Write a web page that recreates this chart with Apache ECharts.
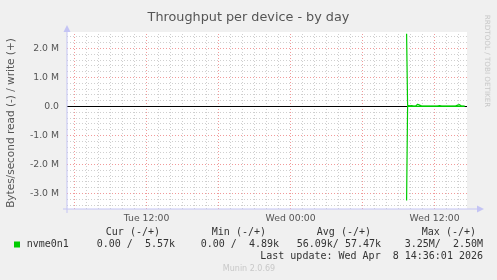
<!DOCTYPE html>
<html>
<head>
<meta charset="utf-8">
<script src="https://cdn.jsdelivr.net/npm/echarts@6/dist/echarts.min.js"></script>
<style>
html,body{margin:0;padding:0;background:#f0f0f0;}
#c{width:497px;height:280px;}
</style>
</head>
<body>
<div id="c"></div>
<script>
// ---- data ----
const titleText = 'Throughput per device - by day';
const yAxisTitle = 'Bytes/second read (-) / write (+)';
const xTickHours = [12, 24, 36];
const xTickLabels = ['Tue 12:00', 'Wed 00:00', 'Wed 12:00'];
const yTickValues = [-3000000, -2000000, -1000000, 0, 1000000, 2000000];
const yTickLabels = ['-3.0 M', '-2.0 M', '-1.0 M', '0.0', '1.0 M', '2.0 M'];
// sample times (Wednesday, 5-minute samples)
const sampleTimes = ['09:40','09:45','09:50','09:55','10:00','10:05','10:10','10:15','10:20','10:25',
  '10:30','10:35','10:40','10:45','10:50','10:55','11:00','11:05','11:10','11:15',
  '11:20','11:25','11:30','11:35','11:40','11:45','11:50','11:55','12:00','12:05',
  '12:10','12:15','12:20','12:25','12:30','12:35','12:40','12:45','12:50','12:55',
  '13:00','13:05','13:10','13:15','13:20','13:25','13:30','13:35','13:40','13:45',
  '13:50','13:55','14:00','14:05','14:10','14:15','14:20','14:25','14:30'];
const writeValues = [2500000,30000,15000,12000,8000,22000,25000,7000,5500,6000,
  45000,70000,72000,40000,6500,5200,5600,5100,5800,5300,
  5000,5900,5400,5200,5700,4890,5300,5600,5100,5500,
  6000,5200,18000,26000,20000,5400,5100,5800,5300,5000,
  5600,5200,5500,5900,5100,5300,5700,5000,5400,5200,
  6000,40000,65000,55000,6200,5300,5100,5600,5570];
const readValues = [-3250000,0,0,0,0,0,0,0,0,0,
  0,0,0,0,0,0,0,0,0,0,
  0,0,0,0,0,0,0,0,0,0,
  0,0,0,0,0,0,0,0,0,0,
  0,0,0,0,0,0,0,0,0,0,
  0,0,0,0,0,0,0,0,0];
const seriesName = 'nvme0n1';
const legendHeaders = ['Cur (-/+)', 'Min (-/+)', 'Avg (-/+)', 'Max (-/+)'];
const legendValues = ['0.00 /  5.57k', '0.00 /  4.89k', '56.09k/ 57.47k', '3.25M/  2.50M'];
const lastUpdate = 'Last update: Wed Apr  8 14:36:01 2026';
const footer = 'Munin 2.0.69';
const sideText = 'RRDTOOL / TOBI OETIKER';
const xMinHour = 5.37, xMaxHour = 38.7;
const yMin = -3540000, yMax = 2560000;
const minorYLines = [-3400000,-3200000,-2800000,-2600000,-2400000,-2200000,-1800000,-1600000,-1400000,-1200000,
  -800000,-600000,-400000,-200000,200000,400000,600000,800000,1200000,1400000,1600000,1800000,2200000,2400000];
const majorYLines = [-3000000,-2000000,-1000000,1000000,2000000];

// ---- build ----
function toHour(t){ const p = t.split(':'); return 24 + (+p[0]) + (+p[1])/60; }
const writeData = sampleTimes.map((t,i)=>[toHour(t), writeValues[i]]);
const readData = sampleTimes.map((t,i)=>[toHour(t), readValues[i]]);

const minorX = [], majorX = [];
for (let h = Math.ceil(xMinHour); h <= xMaxHour; h++) { (h % 6 === 0 ? majorX : minorX).push(h); }

const chart = echarts.init(document.getElementById('c'), null, {renderer:'canvas'});
const GREEN = '#00cc00';
const mono = 'DejaVu Sans Mono';
const textCol = '#333';

const graphics = [];
graphics.push({type:'text', x:11, y:123, rotation:Math.PI/2,
  style:{text:yAxisTitle, textAlign:'center', textVerticalAlign:'middle', font:'10.5px "DejaVu Sans"', fill:'#555'}});
graphics.push({type:'text', x:487, y:61, rotation:-Math.PI/2,
  style:{text:sideText, textAlign:'center', textVerticalAlign:'middle', font:'7.2px "DejaVu Sans"', fill:'#c8c8c8'}});
// axis lines with arrows (rrdtool style)
graphics.push({type:'line', shape:{x1:63, y1:209, x2:478, y2:209}, style:{stroke:'#c4c4f4', lineWidth:1}, z:10});
graphics.push({type:'polygon', shape:{points:[[477,205.5],[484,209],[477,212.5]]}, style:{fill:'#c4c4f4'}, z:10});
graphics.push({type:'line', shape:{x1:67, y1:213, x2:67, y2:31}, style:{stroke:'#c4c4f4', lineWidth:1}, z:10});
graphics.push({type:'polygon', shape:{points:[[63.5,32],[67,25],[70.5,32]]}, style:{fill:'#c4c4f4'}, z:10});
// legend
const headerRight = [160, 266, 371, 476];
const valueRight = [175, 279, 381, 483];
legendHeaders.forEach((h,i)=>graphics.push({type:'text', x:headerRight[i], y:232.7,
  style:{text:h, textAlign:'right', textVerticalAlign:'middle', font:'10px "'+mono+'"', fill:textCol}}));
graphics.push({type:'rect', shape:{x:14, y:241.5, width:6, height:6}, style:{fill:GREEN}});
graphics.push({type:'text', x:26.7, y:244.3, style:{text:seriesName, textAlign:'left', textVerticalAlign:'middle', font:'10px "'+mono+'"', fill:textCol}});
legendValues.forEach((v,i)=>graphics.push({type:'text', x:valueRight[i], y:244.3,
  style:{text:v, textAlign:'right', textVerticalAlign:'middle', font:'10px "'+mono+'"', fill:textCol}}));
graphics.push({type:'text', x:483, y:256.7, style:{text:lastUpdate, textAlign:'right', textVerticalAlign:'middle', font:'10px "'+mono+'"', fill:textCol}});
graphics.push({type:'text', x:249, y:269.3, style:{text:footer, textAlign:'center', textVerticalAlign:'middle', font:'8px "DejaVu Sans"', fill:'#c8c8c8'}});

function gridSeries(name, lines, color, z){
  return {type:'line', name:name, data:[[xMinHour,0]], symbol:'none', lineStyle:{opacity:0}, silent:true, z:z,
    markLine:{silent:true, symbol:['none','none'], animation:false, label:{show:false},
      lineStyle:{color:color, type:[1,2], width:1}, data:lines}};
}

chart.setOption({
  backgroundColor:'#f0f0f0',
  animation:false,
  title:{text:titleText, left:'center', top:6, textStyle:{fontFamily:'DejaVu Sans', fontSize:12.8, fontWeight:'normal', color:'#555'}},
  grid:{left:67, top:32, width:400, height:177, show:true, backgroundColor:'#ffffff', borderWidth:0},
  xAxis:{type:'value', min:xMinHour, max:xMaxHour, splitLine:{show:false}, axisLine:{show:false}, axisTick:{show:false},
    axisLabel:{customValues:xTickHours, formatter:(v)=>xTickLabels[xTickHours.indexOf(v)] || '', margin:5,
      fontFamily:'DejaVu Sans', fontSize:9.3, color:'#555'}},
  yAxis:{type:'value', min:yMin, max:yMax, splitLine:{show:false}, axisLine:{show:false}, axisTick:{show:false},
    axisLabel:{customValues:yTickValues, formatter:(v)=>yTickLabels[yTickValues.indexOf(v)] || '', margin:8,
      fontFamily:'DejaVu Sans', fontSize:9.3, color:'#555'}},
  series:[
    gridSeries('minorGrid', minorYLines.map(v=>({yAxis:v})).concat(minorX.map(h=>({xAxis:h}))), '#cfcfcf', 1),
    gridSeries('majorGrid', majorYLines.map(v=>({yAxis:v})).concat(majorX.map(h=>({xAxis:h}))), '#f19a9a', 2),
    {type:'line', name:'write', data:writeData, symbol:'none', z:5, lineStyle:{color:GREEN, width:1.2}, itemStyle:{color:GREEN}},
    {type:'line', name:'read', data:readData, symbol:'none', z:5, lineStyle:{color:GREEN, width:1.2}, itemStyle:{color:GREEN}},
    {type:'line', name:'zero', data:[[xMinHour,0]], symbol:'none', lineStyle:{opacity:0}, silent:true, z:6,
      markLine:{silent:true, symbol:['none','none'], label:{show:false}, lineStyle:{color:'#000', type:'solid', width:1.2}, data:[{yAxis:0}]}}
  ],
  graphic:graphics
});
</script>
</body>
</html>
